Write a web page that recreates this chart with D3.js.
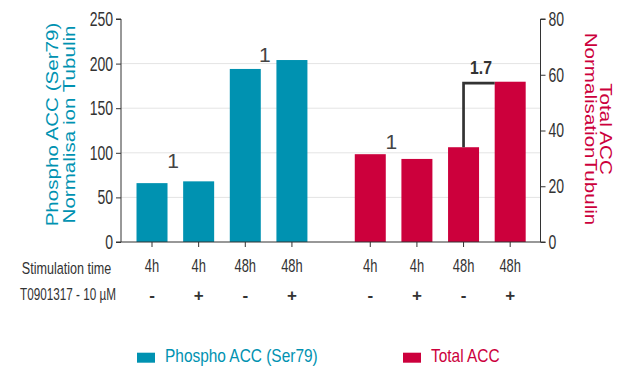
<!DOCTYPE html>
<html>
<head>
<meta charset="utf-8">
<script src="https://cdn.jsdelivr.net/npm/d3@7"></script>
<style>
  body { margin: 0; background: #fff; }
  svg { display: block; }
</style>
</head>
<body>
<svg id="chart" width="625" height="370"></svg>
<script>
// values
const times = ["4h", "4h", "48h", "48h"];
const treatment = ["-", "+", "-", "+"];
const phospho = [66, 68, 194, 204];
const total = [31.5, 29.8, 34, 57.5];
const leftTicks = [0, 50, 100, 150, 200, 250];
const rightTicks = [0, 20, 40, 60, 80];

const teal = "#0092b1";
const red = "#cc003c";
const font = "'Liberation Sans', Arial, sans-serif";

const svg = d3.select("#chart");

const plotL = 121, plotR = 540.5, plotT = 19, plotB = 242;

// the source picture is squashed sideways, so text is narrowed to match
function squeeze(sel, k)
{
    sel.each(function () {
        const len = this.getComputedTextLength();
        d3.select(this)
            .attr("textLength", len * k)
            .attr("lengthAdjust", "spacingAndGlyphs");
    });
}

// slot positions: 4 bars, a gap, 4 bars
const x = d3.scaleLinear().domain([-0.665, 8.33]).range([plotL, plotR]);
const slot = (g, i) => i + g * 4.68;
const barW = 31;

const yL = d3.scaleLinear().domain([0, 250]).range([plotB, plotT]);
const yR = d3.scaleLinear().domain([0, 80]).range([plotB, plotT]);

// gridlines
svg.append("g")
    .selectAll("line")
    .data(leftTicks.filter(d => d > 0 && d < 250))
    .join("line")
    .attr("x1", plotL).attr("x2", plotR)
    .attr("y1", d => yL(d)).attr("y2", d => yL(d))
    .attr("stroke", "#e4e4e4").attr("stroke-width", 1);

// bars
const bars = [];
phospho.forEach((v, i) => bars.push({pos: slot(0, i), y: yL(v), color: teal}));
total.forEach((v, i) => bars.push({pos: slot(1, i), y: yR(v), color: red}));

svg.append("g")
    .selectAll("rect")
    .data(bars)
    .join("rect")
    .attr("x", d => x(d.pos) - barW / 2)
    .attr("width", barW)
    .attr("y", d => d.y)
    .attr("height", d => plotB - d.y)
    .attr("fill", d => d.color);

// left axis
const axL = svg.append("g")
    .attr("transform", `translate(${plotL},0)`)
    .call(d3.axisLeft(yL).tickValues(leftTicks).tickSize(5).tickPadding(3));
axL.select(".domain").attr("stroke", "#333").attr("d", `M-5,${plotT}H0V${plotB}H-5`);

// right axis
const axR = svg.append("g")
    .attr("transform", `translate(${plotR},0)`)
    .call(d3.axisRight(yR).tickValues(rightTicks).tickSize(5).tickPadding(3));
axR.select(".domain").attr("stroke", "#333").attr("d", `M5,${plotT}H0V${plotB}H5`);

[axL, axR].forEach(a => {
    a.selectAll(".tick line").attr("stroke", "#333");
    a.selectAll("text")
        .attr("fill", "#333")
        .style("font-family", font)
        .style("font-size", "20px")
        .call(squeeze, 0.7);
});

// x axis line and ticks
const positions = bars.map(d => d.pos);
svg.append("line")
    .attr("x1", plotL).attr("x2", plotR)
    .attr("y1", plotB).attr("y2", plotB)
    .attr("stroke", "#333").attr("stroke-width", 1.2);

svg.append("g")
    .selectAll("line")
    .data(positions)
    .join("line")
    .attr("x1", d => x(d)).attr("x2", d => x(d))
    .attr("y1", plotB).attr("y2", plotB + 5)
    .attr("stroke", "#333");

// category rows
const timeLabels = times.concat(times);
const treatLabels = treatment.concat(treatment);

svg.append("g")
    .selectAll("text")
    .data(positions)
    .join("text")
    .attr("x", d => x(d))
    .attr("y", 272)
    .attr("text-anchor", "middle")
    .attr("fill", "#333")
    .style("font-family", font)
    .style("font-size", "19px")
    .text((d, i) => timeLabels[i])
    .call(squeeze, 0.68);

svg.append("g")
    .selectAll("text")
    .data(positions)
    .join("text")
    .attr("x", d => x(d))
    .attr("y", 301)
    .attr("text-anchor", "middle")
    .attr("fill", "#333")
    .style("font-family", font)
    .style("font-weight", "bold")
    .style("font-size", "17px")
    .text((d, i) => treatLabels[i]);

// row headers, narrowed with a transform
svg.append("text")
    .attr("transform", "translate(66.5,274) scale(0.74,1)")
    .attr("text-anchor", "middle")
    .attr("fill", "#333")
    .style("font-family", font)
    .style("font-size", "17px")
    .text("Stimulation time");

svg.append("text")
    .attr("transform", "translate(68,300) scale(0.69,1)")
    .attr("text-anchor", "middle")
    .attr("fill", "#333")
    .style("font-family", font)
    .style("font-size", "17px")
    .text("T0901317 - 10 µM");

// fold-change labels
const notes = [
    {pos: (slot(0, 0) + slot(0, 1)) / 2 - 0.05, y: yL(phospho[1]) - 13, text: "1"},
    {pos: (slot(0, 2) + slot(0, 3)) / 2 - 0.08, y: yL(phospho[3]) + 2, text: "1"},
    {pos: (slot(1, 0) + slot(1, 1)) / 2 - 0.05, y: yR(total[0]) - 5, text: "1"}
];
svg.append("g")
    .selectAll("text")
    .data(notes)
    .join("text")
    .attr("x", d => x(d.pos))
    .attr("y", d => d.y)
    .attr("text-anchor", "middle")
    .attr("fill", "#444")
    .style("font-family", font)
    .style("font-size", "21px")
    .text(d => d.text);

// bracket from bar 7 to bar 8
const bx0 = x(slot(1, 2)), bx1 = x(slot(1, 3)) - barW / 2;
const by = yR(total[3]) + 1.5;
svg.append("path")
    .attr("d", `M${bx0},${yR(total[2])}V${by}H${bx1}`)
    .attr("fill", "none")
    .attr("stroke", "#333")
    .attr("stroke-width", 2.7);

svg.append("text")
    .attr("x", 481)
    .attr("y", by - 9)
    .attr("text-anchor", "middle")
    .attr("fill", "#333")
    .style("font-family", font)
    .style("font-weight", "bold")
    .style("font-size", "19px")
    .text("1.7")
    .call(squeeze, 0.83);

// axis titles (rotated, squashed across their thickness)
const lt = svg.append("text")
    .attr("transform", "translate(58.3,124.5) scale(0.77,1) rotate(-90)")
    .attr("text-anchor", "middle")
    .attr("fill", teal)
    .style("font-family", font)
    .style("font-size", "20.6px");
lt.append("tspan").attr("x", 0).attr("dy", 0).text("Phospho ACC (Ser79)");
lt.append("tspan").attr("x", 0).attr("dy", "1.05em").text("Normalisa ion Tubulin");

const rt = svg.append("text")
    .attr("transform", "translate(600.4,129) scale(0.77,1) rotate(90)")
    .attr("text-anchor", "middle")
    .attr("fill", red)
    .style("font-family", font)
    .style("font-size", "20.6px");
rt.append("tspan").attr("x", 0).attr("dy", 0).text("Total ACC");
rt.append("tspan").attr("x", 0).attr("dy", "0.95em").text("NormalisationTubulin");

// legend
const legend = [
    {label: "Phospho ACC (Ser79)", color: teal, x: 137},
    {label: "Total ACC", color: red, x: 403}
];
const lg = svg.append("g")
    .selectAll("g")
    .data(legend)
    .join("g")
    .attr("transform", d => `translate(${d.x},352.7)`);
lg.append("rect")
    .attr("width", 18).attr("height", 10)
    .attr("fill", d => d.color);
lg.append("text")
    .attr("x", 28).attr("y", 9.3)
    .attr("fill", d => d.color)
    .style("font-family", font)
    .style("font-size", "18.6px")
    .text(d => d.label)
    .call(squeeze, 0.83);
</script>
</body>
</html>
